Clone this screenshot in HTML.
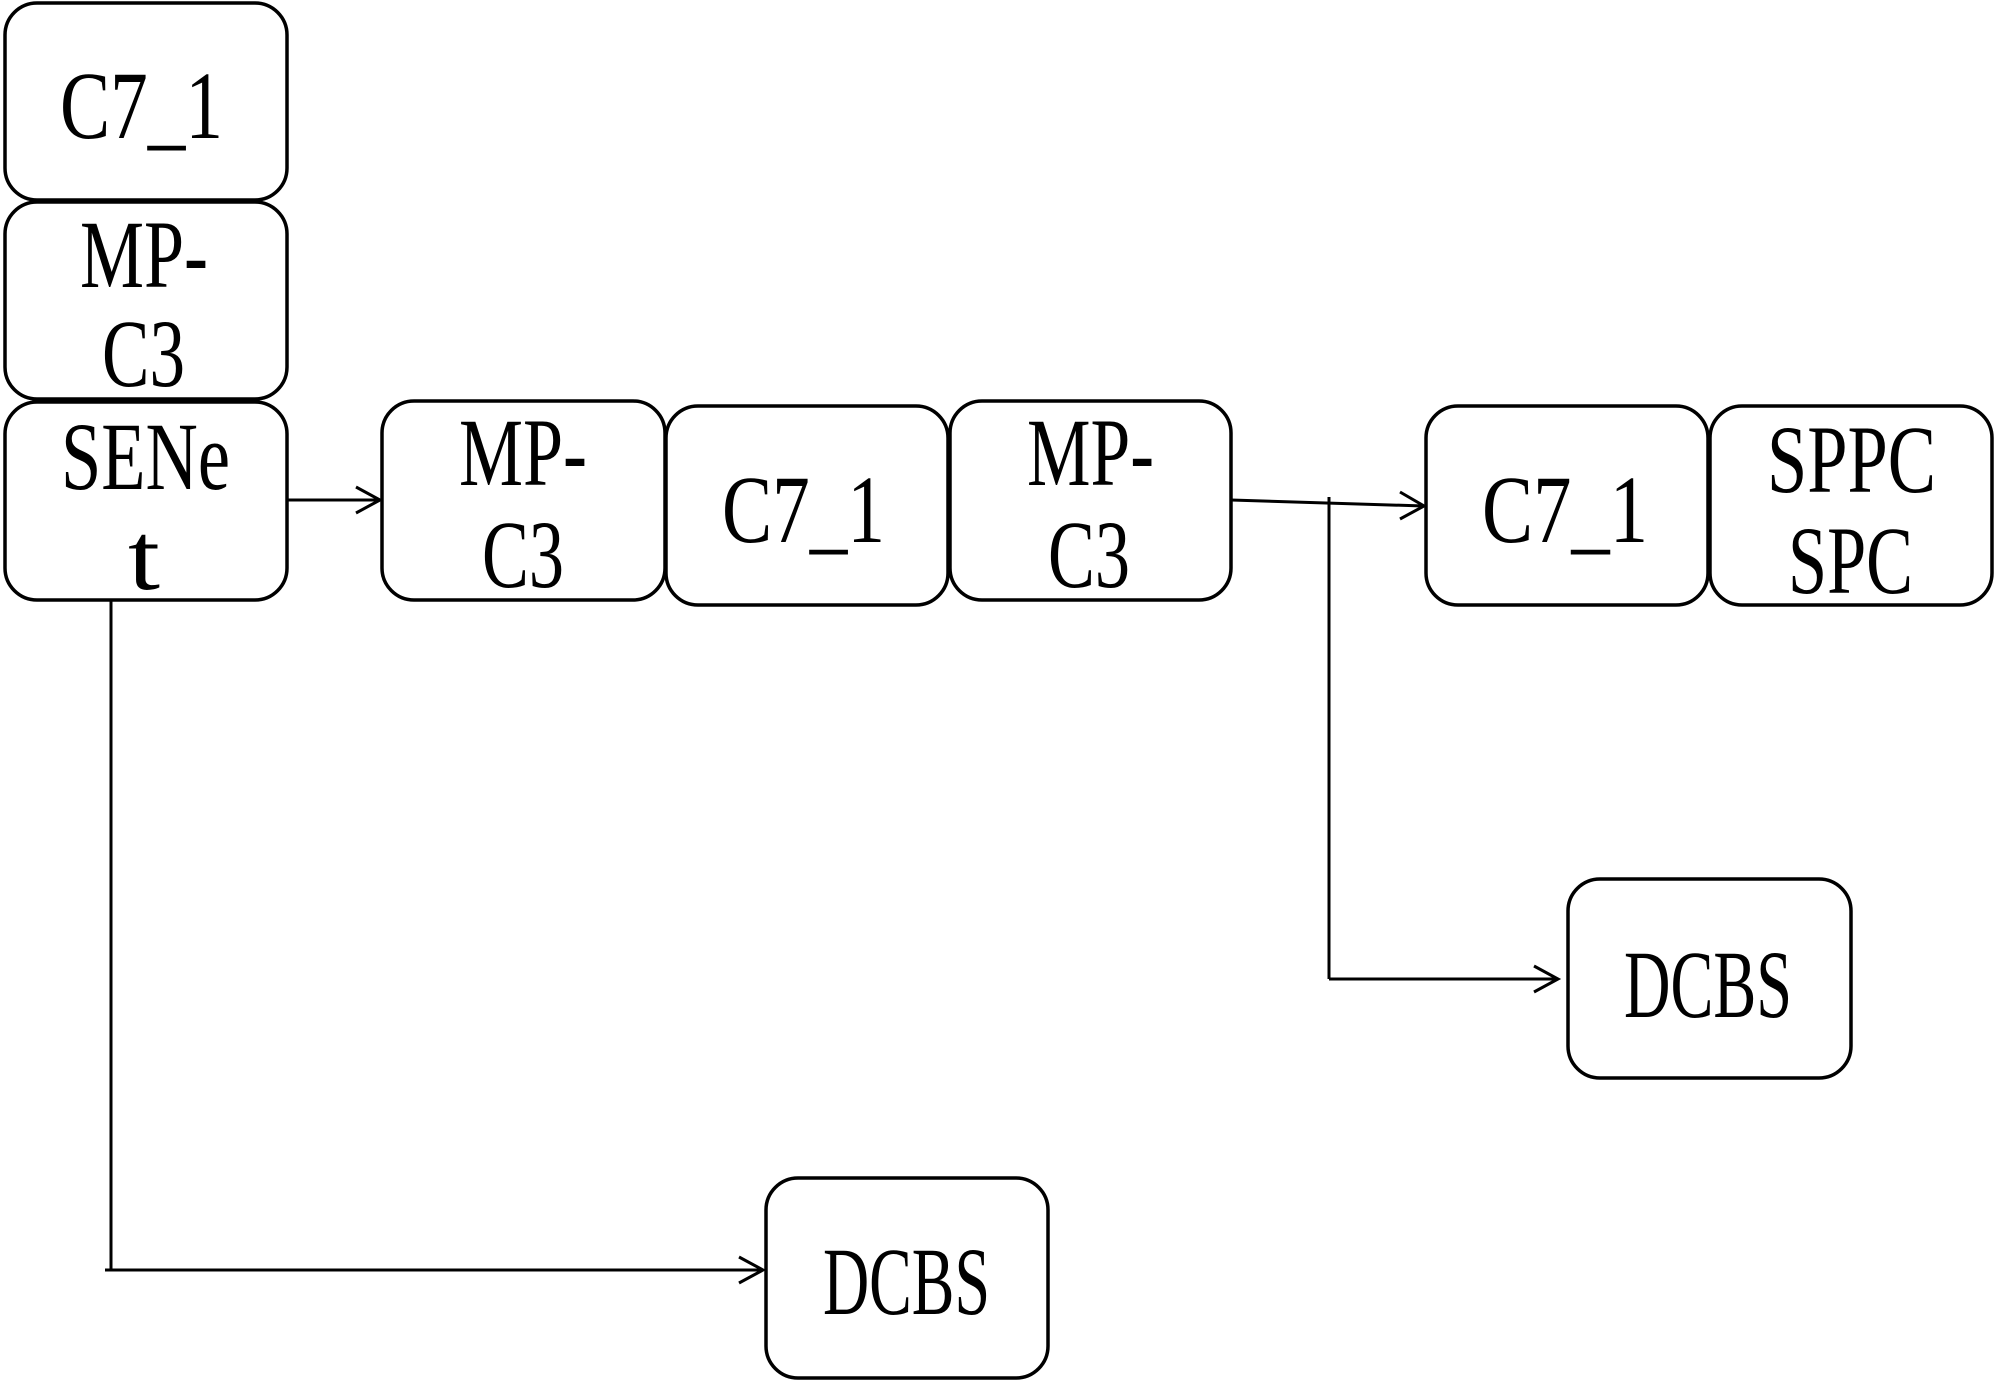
<!DOCTYPE html>
<html><head><meta charset="utf-8"><style>html,body{margin:0;padding:0;background:#fff}svg{display:block}</style></head>
<body>
<svg width="2000" height="1388" viewBox="0 0 2000 1388" xmlns="http://www.w3.org/2000/svg">
<g fill="#fff" stroke="#000" stroke-width="3.5">
<rect x="5" y="3" width="282" height="197" rx="32"/>
<rect x="5" y="202" width="282" height="197" rx="32"/>
<rect x="5" y="402" width="282" height="198" rx="32"/>
<rect x="382" y="401" width="283" height="199" rx="32"/>
<rect x="666" y="406" width="282" height="199" rx="32"/>
<rect x="950" y="401" width="281" height="199" rx="32"/>
<rect x="1426" y="406" width="282" height="199" rx="32"/>
<rect x="1710" y="406" width="282" height="199" rx="32"/>
<rect x="1568" y="879" width="283" height="199" rx="32"/>
<rect x="766" y="1178" width="282" height="200" rx="32"/>
</g>
<g fill="none" stroke="#000" stroke-width="3">
<line x1="287" y1="500" x2="380" y2="500"/>
<polyline points="356,487 380,500 356,513"/>
<line x1="1231" y1="500" x2="1424" y2="506"/>
<polyline points="1400,492 1424,506 1400,519"/>
<line x1="1329" y1="497" x2="1329" y2="979"/>
<line x1="1329" y1="979" x2="1558" y2="979"/>
<polyline points="1534,966 1558,979 1534,992"/>
<line x1="111" y1="600" x2="111" y2="1270"/>
<line x1="105" y1="1270" x2="763" y2="1270"/>
<polyline points="739,1257 763,1270 739,1283"/>
</g>
<g font-family="'Liberation Serif', serif" font-size="96" fill="#000" lengthAdjust="spacingAndGlyphs">
<text x="60" y="138" textLength="163" lengthAdjust="spacingAndGlyphs">C7_1</text>
<text x="80" y="287" textLength="128" lengthAdjust="spacingAndGlyphs">MP-</text>
<text x="102" y="386" textLength="83" lengthAdjust="spacingAndGlyphs">C3</text>
<text x="61" y="489" textLength="169" lengthAdjust="spacingAndGlyphs">SENe</text>
<text x="128" y="589" textLength="32" lengthAdjust="spacingAndGlyphs">t</text>
<text x="459" y="485" textLength="128" lengthAdjust="spacingAndGlyphs">MP-</text>
<text x="482" y="587" textLength="82" lengthAdjust="spacingAndGlyphs">C3</text>
<text x="722" y="542" textLength="163" lengthAdjust="spacingAndGlyphs">C7_1</text>
<text x="1027" y="485" textLength="127" lengthAdjust="spacingAndGlyphs">MP-</text>
<text x="1048" y="587" textLength="82" lengthAdjust="spacingAndGlyphs">C3</text>
<text x="1482" y="542" textLength="166" lengthAdjust="spacingAndGlyphs">C7_1</text>
<text x="1767" y="492" textLength="169" lengthAdjust="spacingAndGlyphs">SPPC</text>
<text x="1788" y="593" textLength="125" lengthAdjust="spacingAndGlyphs">SPC</text>
<text x="1624" y="1017" textLength="168" lengthAdjust="spacingAndGlyphs">DCBS</text>
<text x="823" y="1314" textLength="167" lengthAdjust="spacingAndGlyphs">DCBS</text>
</g>
</svg>
</body></html>
